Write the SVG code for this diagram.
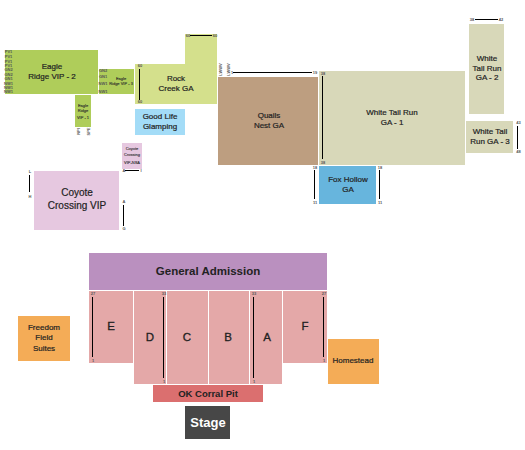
<svg xmlns="http://www.w3.org/2000/svg" width="525" height="450" viewBox="0 0 525 450">
<style>
text{font-family:"Liberation Sans",Arial,sans-serif;text-anchor:middle;fill:#222}
.b{font-size:8px;stroke:#222;stroke-width:.2px}
.c{font-size:10px;stroke:#222;stroke-width:.2px}
.s{font-size:4px;stroke:#333;stroke-width:.1px}
.r{font-size:4px;font-weight:700;fill:#555}
.h{font-size:11.500px;stroke:#222;stroke-width:.3px}
.sec{fill:#e4a8a8}
.gt{fill:#d8d8b9}
.eg{fill:#afcd5a}
.cy{fill:#e6c8e0}
.or{fill:#f4ac57}
line{stroke:#000;stroke-width:1}
</style>
<g id="eagle-ridge-vip-2"><rect class="eg" x="5" y="50" width="93" height="44"/>
<text class="b" x="52" y="69">Eagle</text><text class="b" x="52" y="79">Ridge VIP - 2</text>
<text class="r" x="8.500" y="53">PV1</text><text class="r" x="8.500" y="57.500">PV1</text><text class="r" x="8.500" y="62.500">PV1</text><text class="r" x="8.500" y="66.500">PV1</text><text class="r" x="8.500" y="70.500">GN2</text><text class="r" x="8.500" y="75.500">GN2</text><text class="r" x="8.500" y="79.500">GN1</text><text class="r" x="8.500" y="84.500">NW1</text><text class="r" x="8.500" y="88.500">NW1</text><text class="r" x="8.500" y="93">NW1</text></g>
<g id="eagle-ridge-vip-3"><rect class="eg" x="99" y="69" width="35" height="25"/>
<text class="s" x="121" y="80">Eagle</text><text class="s" x="121" y="85">Ridge VIP - 3</text>
<text class="r" x="103" y="72">GN2</text><text class="r" x="103" y="78">GN1</text><text class="r" x="103" y="85">NW1</text><text class="r" x="103" y="93">NW1</text></g>
<g id="eagle-ridge-vip-1"><rect class="eg" x="75" y="95" width="16" height="32"/>
<text class="s" x="83" y="107">Eagle</text><text class="s" x="83" y="112">Ridge</text><text class="s" x="83" y="119">VIP - 1</text>
<text class="r" transform="translate(80 131.500) rotate(-90)">NPI</text><text class="r" transform="translate(90 131.500) rotate(-90)">SPE</text></g>
<g id="rock-creek-ga"><path d="M135 64H185V34H217V104H135Z" fill="#d4e08c"/>
<text class="b" x="176" y="81">Rock</text><text class="b" x="176" y="91">Creek GA</text>
<text class="r" x="188" y="36.500">60</text><text class="r" x="215" y="36.500">60</text><text class="r" x="140" y="67">60</text><text class="r" x="140" y="103">60</text></g>
<g id="good-life-glamping"><rect x="135" y="109" width="50" height="26" fill="#a3dcf7"/>
<text class="b" x="160" y="119">Good Life</text><text class="b" x="160" y="129">Glamping</text></g>
<g id="quails-nest-ga"><rect x="218" y="77" width="100" height="88" fill="#bd9e80"/>
<text class="b" x="269" y="118">Quails</text><text class="b" x="269" y="128">Nest GA</text>
<text class="r" transform="translate(222 69.500) rotate(-90)">LWWV</text><text class="r" transform="translate(230 69.500) rotate(-90)">LWWV</text>
<text class="r" x="232" y="74">1</text><text class="r" x="315" y="74">19</text></g>
<g id="white-tail-run-ga-1"><rect class="gt" x="319" y="71" width="146" height="94"/>
<text class="b" x="392" y="115">White Tail Run</text><text class="b" x="392" y="125">GA - 1</text>
<text class="r" x="323" y="75">38</text><text class="r" x="323" y="164">38</text></g>
<g id="white-tail-run-ga-2"><rect class="gt" x="469" y="24" width="35" height="90"/>
<text class="b" x="487" y="61">White</text><text class="b" x="487" y="71">Tail Run</text><text class="b" x="487" y="80">GA - 2</text>
<text class="r" x="472" y="21">38</text><text class="r" x="501" y="21">42</text></g>
<g id="white-tail-run-ga-3"><rect class="gt" x="466" y="121" width="47" height="32"/>
<text class="b" x="490" y="134">White Tail</text><text class="b" x="490" y="144">Run GA - 3</text>
<text class="r" x="518.500" y="124">43</text><text class="r" x="518.500" y="153">48</text></g>
<g id="fox-hollow-ga"><rect x="319" y="166" width="57" height="38" fill="#67b5dd"/>
<text class="b" x="348" y="182">Fox Hollow</text><text class="b" x="348" y="192">GA</text>
<text class="r" x="315" y="169">18</text><text class="r" x="315" y="204">11</text><text class="r" x="380" y="169">18</text><text class="r" x="380" y="204">11</text></g>
<g id="coyote-crossing-vip"><rect class="cy" x="34" y="171" width="85" height="59"/>
<text class="c" x="77" y="196">Coyote</text><text class="c" x="77" y="209">Crossing VIP</text>
<text class="r" x="30" y="173">L</text><text class="r" x="30" y="198">H</text><text class="r" x="124" y="203">A</text><text class="r" x="124" y="230">G</text></g>
<g id="coyote-crossing-vip-nsa"><rect class="cy" x="122" y="143" width="20" height="26"/>
<text class="s" x="132" y="150">Coyote</text><text class="s" x="132" y="156">Crossing</text><text class="s" x="132" y="164">VIP-NSA</text>
<text class="r" x="124" y="172">A</text><text class="r" x="141" y="172">I</text></g>
<g id="general-admission"><rect x="89" y="253" width="238" height="37" fill="#ba90bf"/><text x="208" y="275" style="font-size:11.500px;font-weight:700">General Admission</text></g>
<g id="section-e"><rect class="sec" x="89" y="291" width="44" height="72"/><text class="h" x="111" y="330">E</text><text class="r" x="93" y="295">27</text><text class="r" x="93" y="362">1</text></g>
<g id="section-d"><rect class="sec" x="134" y="291" width="32" height="93"/><text class="h" x="150" y="341">D</text><text class="r" x="164" y="295">33</text><text class="r" x="164" y="383">1</text></g>
<g id="section-c"><rect class="sec" x="167" y="291" width="41" height="93"/><text class="h" x="187" y="341">C</text></g>
<g id="section-b"><rect class="sec" x="209" y="291" width="40" height="93"/><text class="h" x="228" y="341">B</text></g>
<g id="section-a"><rect class="sec" x="250" y="291" width="32" height="93"/><text class="h" x="267" y="341">A</text><text class="r" x="254" y="295">33</text><text class="r" x="254" y="383">1</text></g>
<g id="section-f"><rect class="sec" x="283" y="291" width="44" height="72"/><text class="h" x="305" y="330">F</text><text class="r" x="324" y="295">27</text><text class="r" x="324" y="362">1</text></g>
<g id="freedom-field-suites"><rect class="or" x="18" y="316" width="52" height="45"/><text class="b" x="44" y="330">Freedom</text><text class="b" x="44" y="340">Field</text><text class="b" x="44" y="351">Suites</text></g>
<g id="homestead"><rect class="or" x="328" y="339" width="51" height="45"/><text class="b" x="353" y="363">Homestead</text></g>
<g id="ok-corral-pit"><rect x="153" y="385" width="110" height="17" fill="#db6f6f"/><text x="208" y="397" style="font-size:9.500px;font-weight:700">OK Corral Pit</text></g>
<g id="stage"><rect x="185" y="406" width="45" height="33" fill="#474747"/><text x="208" y="427" style="font-size:13px;font-weight:700;fill:#fff">Stage</text></g>
<g id="connectors">
<line x1="190" y1="35.500" x2="212" y2="35.500"/>
<line x1="139.500" y1="69" x2="139.500" y2="100"/>
<line x1="233" y1="72.500" x2="312" y2="72.500"/>
<line x1="322.500" y1="76" x2="322.500" y2="159"/>
<line x1="475" y1="19.500" x2="498" y2="19.500"/>
<line x1="517.500" y1="126" x2="517.500" y2="149"/>
<line x1="314.500" y1="170" x2="314.500" y2="199"/>
<line x1="379.500" y1="170" x2="379.500" y2="199"/>
<line x1="29.500" y1="175" x2="29.500" y2="192"/>
<line x1="123.500" y1="205" x2="123.500" y2="226"/>
<line x1="125" y1="170.500" x2="139" y2="170.500"/>
<line x1="92.500" y1="297" x2="92.500" y2="357"/>
<line x1="163.500" y1="297" x2="163.500" y2="378"/>
<line x1="253.500" y1="297" x2="253.500" y2="378"/>
<line x1="323.500" y1="297" x2="323.500" y2="357"/>
</g>
</svg>
